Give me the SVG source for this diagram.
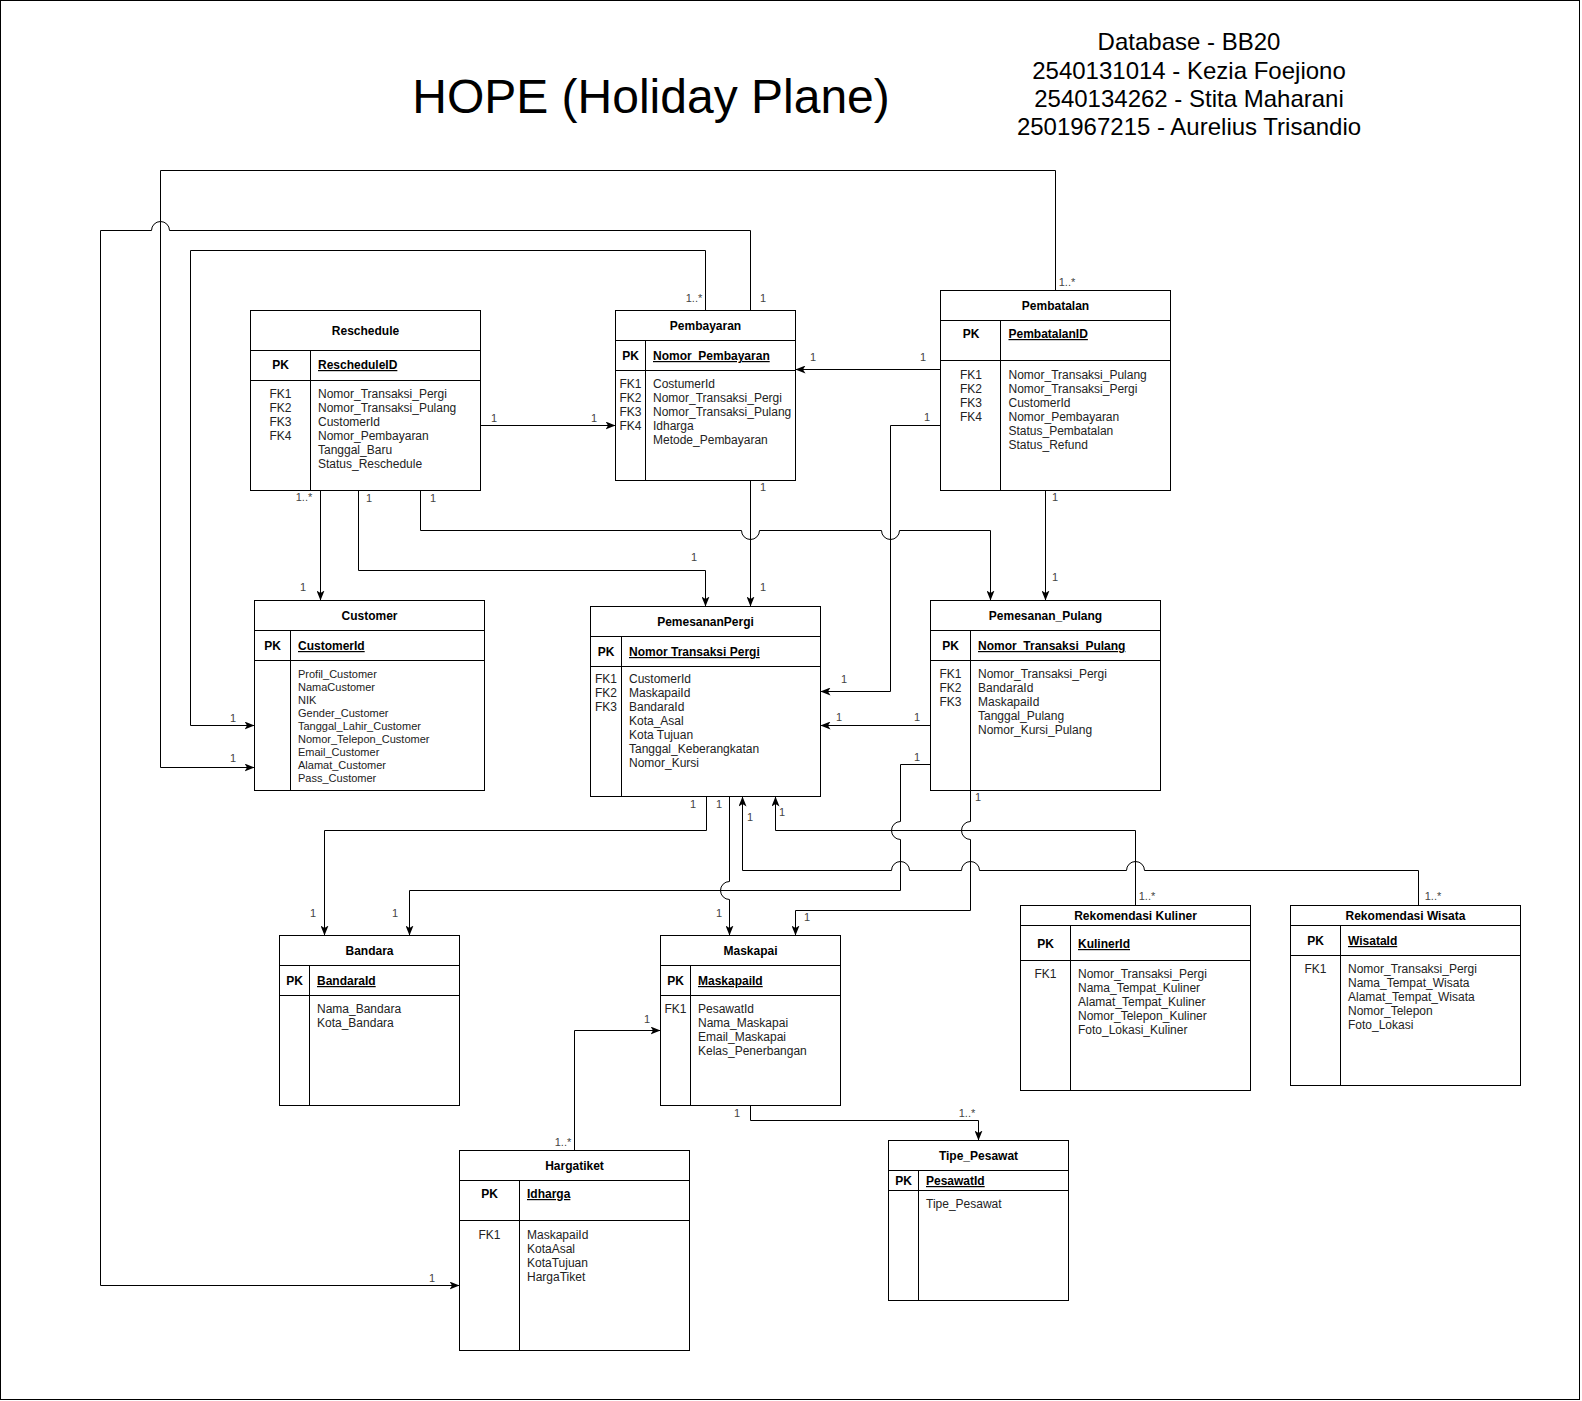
<svg xmlns="http://www.w3.org/2000/svg" width="1582" height="1401" viewBox="0 0 1582 1401">
<defs>
<style>
text{font-family:"Liberation Sans",Arial,Helvetica,sans-serif;fill:#000}
.title{font-size:48px;text-anchor:middle}
.info{font-size:24px;text-anchor:middle}
.t{font-size:12px;font-weight:bold;text-anchor:middle}
.pk{font-size:12px;font-weight:bold;text-anchor:middle}
.pkv{font-size:12px;font-weight:bold;text-decoration:underline}
.fk{font-size:12px;text-anchor:middle;fill:#222}
.f{font-size:12px;fill:#222}
.f11{font-size:11px;fill:#222}
.lbl{font-size:11px;fill:#444;text-anchor:middle}
.box{fill:#fff;stroke:#000;stroke-width:1}
.ln{fill:none;stroke:#000;stroke-width:1}
#connectors path{fill:none;stroke:#000;stroke-width:1;marker-end:url(#arr)}
</style>
<marker id="arr" viewBox="0 0 10 8" refX="10" refY="4" markerWidth="10" markerHeight="8" markerUnits="userSpaceOnUse" orient="auto">
<path d="M0,0 L10,4 L0,8 L2.5,4 z" fill="#000"/>
</marker>
</defs>
<rect x="0.5" y="0.5" width="1579" height="1399" fill="#fff" stroke="#000" stroke-width="1"/>

<g id="heading">
<text class="title" x="651" y="113">HOPE (Holiday Plane)</text>
<text class="info" x="1189" y="50">Database - BB20</text>
<text class="info" x="1189" y="78.5">2540131014 - Kezia Foejiono</text>
<text class="info" x="1189" y="107">2540134262 - Stita Maharani</text>
<text class="info" x="1189" y="135">2501967215 - Aurelius Trisandio</text>
</g>

<g id="connectors">
<path d="M1055.5 290.5 V170.5 H160.5 V767.5 H254.5"/>
<path d="M750.5 310.5 V230.5 H169.5 A9 9 0 0 0 151.5 230.5 H100.5 V1285.5 H459.5"/>
<path d="M705.5 310.5 V250.5 H190.5 V725.5 H254.5"/>
<path d="M480.5 425.5 H615.5"/>
<path d="M940.5 369.5 H795.5"/>
<path d="M940.5 425.5 H890.5 V691.5 H820.5"/>
<path d="M320.5 490.5 V600.5"/>
<path d="M358.5 490.5 V570.5 H705.5 V606.5"/>
<path d="M420.5 490.5 V530.5 H741.5 A9 9 0 0 0 759.5 530.5 H881.5 A9 9 0 0 0 899.5 530.5 H990.5 V600.5"/>
<path d="M750.5 480.5 V606.5"/>
<path d="M1045.5 490.5 V600.5"/>
<path d="M930.5 725.5 H820.5"/>
<path d="M930.5 764.5 H900.5 V821.5 A9 9 0 0 0 900.5 839.5 V890.5 H409.5 V935.5"/>
<path d="M970.5 790.5 V821.5 A9 9 0 0 0 970.5 839.5 V910.5 H795.5 V935.5"/>
<path d="M706.5 796.5 V830.5 H324.5 V935.5"/>
<path d="M729.5 796.5 V881.5 A9 9 0 0 0 729.5 899.5 V935.5"/>
<path d="M1418.5 905.5 V870.5 H1144.5 A9 9 0 0 0 1126.5 870.5 H979.5 A9 9 0 0 0 961.5 870.5 H909.5 A9 9 0 0 0 891.5 870.5 H742.5 V796.5"/>
<path d="M1135.5 905.5 V830.5 H775.5 V796.5"/>
<path d="M750.5 1105.5 V1120.5 H978.5 V1140.5"/>
<path d="M574.5 1150.5 V1030.5 H660.5"/>
</g>

<g id="connector-labels">
<text class="lbl" x="1067" y="286">1..*</text>
<text class="lbl" x="233" y="762">1</text>
<text class="lbl" x="763" y="302">1</text>
<text class="lbl" x="432" y="1282">1</text>
<text class="lbl" x="694" y="302">1..*</text>
<text class="lbl" x="233" y="722">1</text>
<text class="lbl" x="494" y="422">1</text>
<text class="lbl" x="594" y="422">1</text>
<text class="lbl" x="813" y="361">1</text>
<text class="lbl" x="923" y="361">1</text>
<text class="lbl" x="927" y="421">1</text>
<text class="lbl" x="844" y="683">1</text>
<text class="lbl" x="304" y="501">1..*</text>
<text class="lbl" x="303" y="591">1</text>
<text class="lbl" x="369" y="502">1</text>
<text class="lbl" x="694" y="561">1</text>
<text class="lbl" x="433" y="502">1</text>
<text class="lbl" x="763" y="491">1</text>
<text class="lbl" x="763" y="591">1</text>
<text class="lbl" x="1055" y="501">1</text>
<text class="lbl" x="1055" y="581">1</text>
<text class="lbl" x="917" y="721">1</text>
<text class="lbl" x="839" y="721">1</text>
<text class="lbl" x="917" y="761">1</text>
<text class="lbl" x="395" y="917">1</text>
<text class="lbl" x="978" y="801">1</text>
<text class="lbl" x="807" y="921">1</text>
<text class="lbl" x="693" y="808">1</text>
<text class="lbl" x="313" y="917">1</text>
<text class="lbl" x="719" y="808">1</text>
<text class="lbl" x="719" y="917">1</text>
<text class="lbl" x="1433" y="900">1..*</text>
<text class="lbl" x="750" y="821">1</text>
<text class="lbl" x="1147" y="900">1..*</text>
<text class="lbl" x="782" y="816">1</text>
<text class="lbl" x="737" y="1117">1</text>
<text class="lbl" x="967" y="1117">1..*</text>
<text class="lbl" x="563" y="1146">1..*</text>
<text class="lbl" x="647" y="1023">1</text>
</g>

<g id="reschedule">
<rect class="box" x="250.5" y="310.5" width="230" height="180"/>
<path class="ln" d="M250.5 350.5H480.5M250.5 380.5H480.5M310.5 350.5V490.5"/>
<text class="t" x="365.5" y="335">Reschedule</text>
<text class="pk" x="280.5" y="369">PK</text>
<text class="pkv" x="318" y="369">RescheduleID</text>
<text class="fk" y="398"><tspan x="280.5">FK1</tspan><tspan x="280.5" dy="14">FK2</tspan><tspan x="280.5" dy="14">FK3</tspan><tspan x="280.5" dy="14">FK4</tspan></text>
<text class="f" y="398"><tspan x="318">Nomor_Transaksi_Pergi</tspan><tspan x="318" dy="14">Nomor_Transaksi_Pulang</tspan><tspan x="318" dy="14">CustomerId</tspan><tspan x="318" dy="14">Nomor_Pembayaran</tspan><tspan x="318" dy="14">Tanggal_Baru</tspan><tspan x="318" dy="14">Status_Reschedule</tspan></text>
</g>

<g id="pembayaran">
<rect class="box" x="615.5" y="310.5" width="180" height="170"/>
<path class="ln" d="M615.5 340.5H795.5M615.5 370.5H795.5M645.5 340.5V480.5"/>
<text class="t" x="705.5" y="330">Pembayaran</text>
<text class="pk" x="630.5" y="360">PK</text>
<text class="pkv" x="653" y="360">Nomor_Pembayaran</text>
<text class="fk" y="388"><tspan x="630.5">FK1</tspan><tspan x="630.5" dy="14">FK2</tspan><tspan x="630.5" dy="14">FK3</tspan><tspan x="630.5" dy="14">FK4</tspan></text>
<text class="f" y="388"><tspan x="653">CostumerId</tspan><tspan x="653" dy="14">Nomor_Transaksi_Pergi</tspan><tspan x="653" dy="14">Nomor_Transaksi_Pulang</tspan><tspan x="653" dy="14">Idharga</tspan><tspan x="653" dy="14">Metode_Pembayaran</tspan></text>
</g>

<g id="pembatalan">
<rect class="box" x="940.5" y="290.5" width="230" height="200"/>
<path class="ln" d="M940.5 320.5H1170.5M940.5 360.5H1170.5M1000.5 320.5V490.5"/>
<text class="t" x="1055.5" y="310">Pembatalan</text>
<text class="pk" x="971" y="338">PK</text>
<text class="pkv" x="1008.5" y="338">PembatalanID</text>
<text class="fk" y="378.5"><tspan x="971">FK1</tspan><tspan x="971" dy="14">FK2</tspan><tspan x="971" dy="14">FK3</tspan><tspan x="971" dy="14">FK4</tspan></text>
<text class="f" y="378.5"><tspan x="1008.5">Nomor_Transaksi_Pulang</tspan><tspan x="1008.5" dy="14">Nomor_Transaksi_Pergi</tspan><tspan x="1008.5" dy="14">CustomerId</tspan><tspan x="1008.5" dy="14">Nomor_Pembayaran</tspan><tspan x="1008.5" dy="14">Status_Pembatalan</tspan><tspan x="1008.5" dy="14">Status_Refund</tspan></text>
</g>

<g id="customer">
<rect class="box" x="254.5" y="600.5" width="230" height="190"/>
<path class="ln" d="M254.5 630.5H484.5M254.5 660.5H484.5M290.5 630.5V790.5"/>
<text class="t" x="369.5" y="620">Customer</text>
<text class="pk" x="272.5" y="650">PK</text>
<text class="pkv" x="298" y="650">CustomerId</text>
<text class="f11" y="677.5"><tspan x="298">Profil_Customer</tspan><tspan x="298" dy="13">NamaCustomer</tspan><tspan x="298" dy="13">NIK</tspan><tspan x="298" dy="13">Gender_Customer</tspan><tspan x="298" dy="13">Tanggal_Lahir_Customer</tspan><tspan x="298" dy="13">Nomor_Telepon_Customer</tspan><tspan x="298" dy="13">Email_Customer</tspan><tspan x="298" dy="13">Alamat_Customer</tspan><tspan x="298" dy="13">Pass_Customer</tspan></text>
</g>

<g id="pemesanan-pergi">
<rect class="box" x="590.5" y="606.5" width="230" height="190"/>
<path class="ln" d="M590.5 636.5H820.5M590.5 666.5H820.5M621.5 636.5V796.5"/>
<text class="t" x="705.5" y="626">PemesananPergi</text>
<text class="pk" x="606" y="656">PK</text>
<text class="pkv" x="629" y="656">Nomor Transaksi Pergi</text>
<text class="fk" y="683"><tspan x="606">FK1</tspan><tspan x="606" dy="14">FK2</tspan><tspan x="606" dy="14">FK3</tspan></text>
<text class="f" y="683"><tspan x="629">CustomerId</tspan><tspan x="629" dy="14">MaskapaiId</tspan><tspan x="629" dy="14">BandaraId</tspan><tspan x="629" dy="14">Kota_Asal</tspan><tspan x="629" dy="14">Kota Tujuan</tspan><tspan x="629" dy="14">Tanggal_Keberangkatan</tspan><tspan x="629" dy="14">Nomor_Kursi</tspan></text>
</g>

<g id="pemesanan-pulang">
<rect class="box" x="930.5" y="600.5" width="230" height="190"/>
<path class="ln" d="M930.5 630.5H1160.5M930.5 660.5H1160.5M970.5 630.5V790.5"/>
<text class="t" x="1045.5" y="620">Pemesanan_Pulang</text>
<text class="pk" x="950.5" y="650">PK</text>
<text class="pkv" x="978" y="650">Nomor_Transaksi_Pulang</text>
<text class="fk" y="677.5"><tspan x="950.5">FK1</tspan><tspan x="950.5" dy="14">FK2</tspan><tspan x="950.5" dy="14">FK3</tspan></text>
<text class="f" y="677.5"><tspan x="978">Nomor_Transaksi_Pergi</tspan><tspan x="978" dy="14">BandaraId</tspan><tspan x="978" dy="14">MaskapaiId</tspan><tspan x="978" dy="14">Tanggal_Pulang</tspan><tspan x="978" dy="14">Nomor_Kursi_Pulang</tspan></text>
</g>

<g id="bandara">
<rect class="box" x="279.5" y="935.5" width="180" height="170"/>
<path class="ln" d="M279.5 965.5H459.5M279.5 995.5H459.5M309.5 965.5V1105.5"/>
<text class="t" x="369.5" y="955">Bandara</text>
<text class="pk" x="294.5" y="985">PK</text>
<text class="pkv" x="317" y="985">BandaraId</text>
<text class="f" y="1013"><tspan x="317">Nama_Bandara</tspan><tspan x="317" dy="14">Kota_Bandara</tspan></text>
</g>

<g id="maskapai">
<rect class="box" x="660.5" y="935.5" width="180" height="170"/>
<path class="ln" d="M660.5 965.5H840.5M660.5 995.5H840.5M690.5 965.5V1105.5"/>
<text class="t" x="750.5" y="955">Maskapai</text>
<text class="pk" x="675.5" y="985">PK</text>
<text class="pkv" x="698" y="985">MaskapaiId</text>
<text class="fk" x="675.5" y="1013">FK1</text>
<text class="f" y="1013"><tspan x="698">PesawatId</tspan><tspan x="698" dy="14">Nama_Maskapai</tspan><tspan x="698" dy="14">Email_Maskapai</tspan><tspan x="698" dy="14">Kelas_Penerbangan</tspan></text>
</g>

<g id="rekomendasi-kuliner">
<rect class="box" x="1020.5" y="905.5" width="230" height="185"/>
<path class="ln" d="M1020.5 925.5H1250.5M1020.5 960.5H1250.5M1070.5 925.5V1090.5"/>
<text class="t" x="1135.5" y="920">Rekomendasi Kuliner</text>
<text class="pk" x="1045.5" y="948">PK</text>
<text class="pkv" x="1078" y="948">KulinerId</text>
<text class="fk" x="1045.5" y="978">FK1</text>
<text class="f" y="978"><tspan x="1078">Nomor_Transaksi_Pergi</tspan><tspan x="1078" dy="14">Nama_Tempat_Kuliner</tspan><tspan x="1078" dy="14">Alamat_Tempat_Kuliner</tspan><tspan x="1078" dy="14">Nomor_Telepon_Kuliner</tspan><tspan x="1078" dy="14">Foto_Lokasi_Kuliner</tspan></text>
</g>

<g id="rekomendasi-wisata">
<rect class="box" x="1290.5" y="905.5" width="230" height="180"/>
<path class="ln" d="M1290.5 925.5H1520.5M1290.5 955.5H1520.5M1340.5 925.5V1085.5"/>
<text class="t" x="1405.5" y="920">Rekomendasi Wisata</text>
<text class="pk" x="1315.5" y="945">PK</text>
<text class="pkv" x="1348" y="945">WisataId</text>
<text class="fk" x="1315.5" y="973">FK1</text>
<text class="f" y="973"><tspan x="1348">Nomor_Transaksi_Pergi</tspan><tspan x="1348" dy="14">Nama_Tempat_Wisata</tspan><tspan x="1348" dy="14">Alamat_Tempat_Wisata</tspan><tspan x="1348" dy="14">Nomor_Telepon</tspan><tspan x="1348" dy="14">Foto_Lokasi</tspan></text>
</g>

<g id="hargatiket">
<rect class="box" x="459.5" y="1150.5" width="230" height="200"/>
<path class="ln" d="M459.5 1180.5H689.5M459.5 1220.5H689.5M519.5 1180.5V1350.5"/>
<text class="t" x="574.5" y="1170">Hargatiket</text>
<text class="pk" x="489.5" y="1198">PK</text>
<text class="pkv" x="527" y="1198">Idharga</text>
<text class="fk" x="489.5" y="1238.5">FK1</text>
<text class="f" y="1238.5"><tspan x="527">MaskapaiId</tspan><tspan x="527" dy="14">KotaAsal</tspan><tspan x="527" dy="14">KotaTujuan</tspan><tspan x="527" dy="14">HargaTiket</tspan></text>
</g>

<g id="tipe-pesawat">
<rect class="box" x="888.5" y="1140.5" width="180" height="160"/>
<path class="ln" d="M888.5 1170.5H1068.5M888.5 1190.5H1068.5M918.5 1170.5V1300.5"/>
<text class="t" x="978.5" y="1160">Tipe_Pesawat</text>
<text class="pk" x="903.5" y="1185">PK</text>
<text class="pkv" x="926" y="1185">PesawatId</text>
<text class="f" x="926" y="1207.5">Tipe_Pesawat</text>
</g>
</svg>
